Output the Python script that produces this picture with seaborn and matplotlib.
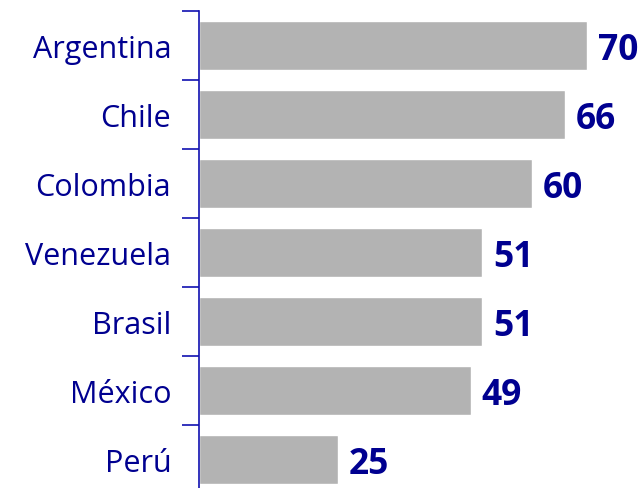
import numpy as np
import pandas as pd
import matplotlib
matplotlib.use("Agg")
import matplotlib.pyplot as plt
import seaborn as sns

paises = ["Argentina", "Chile", "Colombia", "Venezuela", "Brasil", "México", "Perú"]
valores = [70, 66, 60, 51, 51, 49, 25]

sns.set_style("white")
plt.rcParams['font.family'] = ['Open Sans', 'DejaVu Sans']

azul = "#000090"
linea = "#1010b0"
df = pd.DataFrame({"pais": paises, "valor": valores})

fig = plt.figure(figsize=(6.43, 4.89), dpi=100)
# axes runs from y=12px down to y=495px (slightly below the figure)
ax = fig.add_axes([199/643, -6/489, 1 - 199/643, (489 - 12 + 6)/489])

sns.barplot(data=df, x="valor", y="pais", orient="h", color="#b3b3b3",
            width=0.72, saturation=1, ax=ax)

ax.set_xlim(0, 80.1)
ax.set_ylim(6.5, -0.5)
ax.set_xlabel("")
ax.set_ylabel("")
ax.set_xticks([])

for s in ["top", "right", "bottom"]:
    ax.spines[s].set_visible(False)
ax.spines["left"].set_color(linea)
ax.spines["left"].set_linewidth(1.2)

ax.tick_params(axis="y", which="major", left=False, length=0, pad=20,
               labelsize=22, labelcolor=azul)
ax.set_yticks(np.arange(-0.5, 7, 1), minor=True)
ax.tick_params(axis="y", which="minor", left=True, length=12, width=1.2,
               color=linea)

for i, v in enumerate(valores):
    ax.text(v + 2.0, i + 0.06, str(v), va="center", ha="left",
            fontsize=25.5, fontweight="bold", color=azul)

fig.savefig("out.png", dpi=100)
